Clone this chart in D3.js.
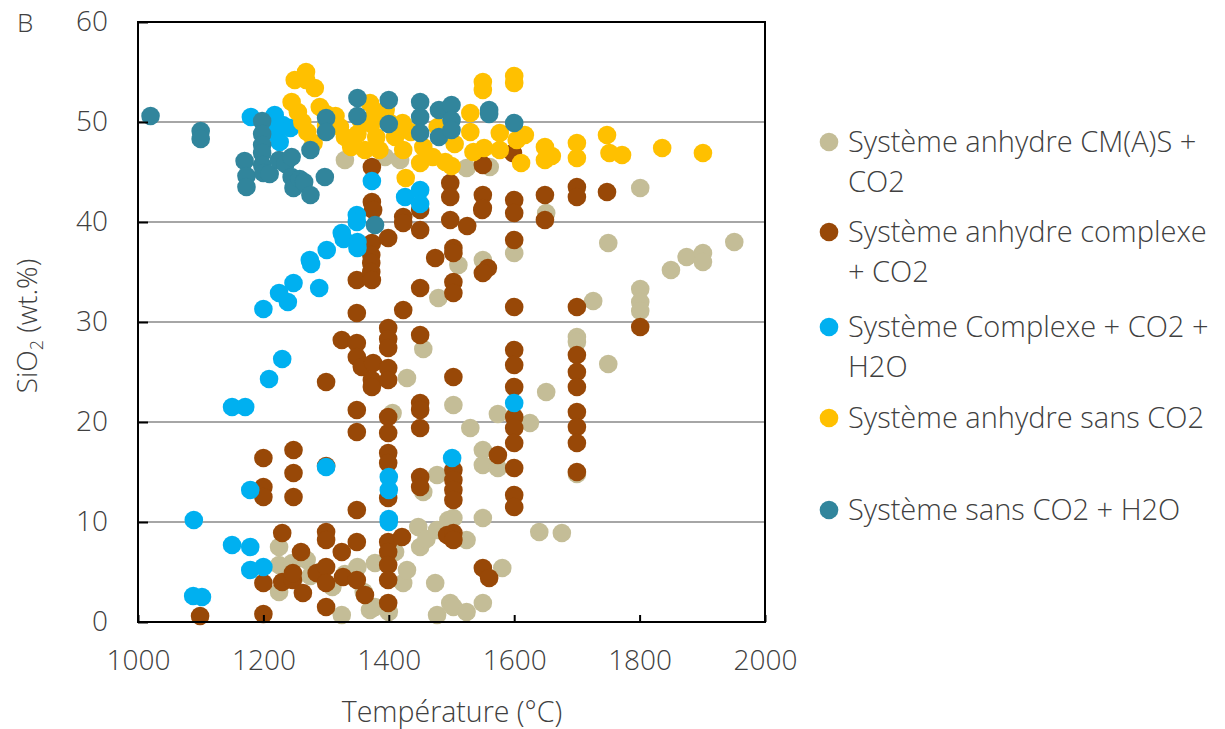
<!DOCTYPE html>
<html><head><meta charset="utf-8">
<script src="https://cdn.jsdelivr.net/npm/d3@7"></script>
<style>
body{margin:0;background:#fff;}
text{font-family:"Open Sans","Noto Sans",sans-serif;font-weight:300;fill:#404040;}
</style></head>
<body><svg id="c" width="1225" height="729"></svg>
<script>
const seriesNames = ["Système anhydre CM(A)S + CO2","Système anhydre complexe + CO2","Système Complexe + CO2 + H2O","Système anhydre sans CO2","Système sans CO2 + H2O"];
const xTicks = [1000,1200,1400,1600,1800,2000];
const yTicks = [0,10,20,30,40,50,60];

const tanPts = [[1225,7.5],[1225,5.7],[1225,3.0],[1246,5.9],[1250,4.5],[1269,6.2],[1275,4.6],[1290,5.0],[1310,3.5],[1325,0.7],[1330,4.8],[1350,5.5],[1360,3.0],[1370,1.2],[1378,5.9],[1378,1.5],[1400,1.0],[1406,20.9],[1410,7.0],[1423,3.9],[1429,5.2],[1429,24.4],[1447,9.5],[1450,7.5],[1455,13.0],[1455,27.3],[1460,8.3],[1474,3.9],[1477,14.7],[1477,9.2],[1477,0.7],[1479,32.4],[1495,10.2],[1498,1.9],[1503,21.7],[1503,10.4],[1503,1.5],[1511,35.7],[1524,8.2],[1524,1.0],[1530,19.4],[1550,36.2],[1550,17.2],[1550,15.7],[1550,10.4],[1550,1.9],[1574,20.8],[1574,15.4],[1581,5.4],[1600,36.9],[1625,19.9],[1640,9.0],[1651,23.0],[1651,40.9],[1676,8.9],[1700,28.5],[1700,28.0],[1700,14.8],[1726,32.1],[1750,37.9],[1750,25.8],[1801,43.4],[1801,33.3],[1801,32.0],[1801,31.1],[1850,35.2],[1875,36.5],[1901,36.9],[1901,36.0],[1951,38.0],[1330,46.2],[1394,46.5],[1418,46.2],[1524,45.4],[1561,45.5]];

const brownPts = [[1099,0.6],[1200,0.8],[1200,16.4],[1200,13.5],[1200,12.5],[1200,3.9],[1230,8.9],[1230,4.0],[1248,17.2],[1248,14.9],[1248,12.5],[1247,4.2],[1260,7.0],[1247,4.9],[1263,2.9],[1285,4.9],[1300,15.6],[1300,9.0],[1300,8.2],[1300,5.5],[1300,3.9],[1300,1.5],[1300,24.0],[1325,7.0],[1325,28.2],[1327,4.5],[1349,4.2],[1349,8.0],[1349,11.2],[1349,21.2],[1349,19.0],[1349,27.9],[1349,26.5],[1357,25.5],[1349,30.9],[1349,34.2],[1362,2.7],[1373,45.5],[1373,42.0],[1375,41.2],[1373,37.9],[1372,36.7],[1372,35.9],[1372,35.0],[1373,34.2],[1375,25.9],[1373,24.2],[1373,23.5],[1399,38.4],[1399,29.4],[1399,28.3],[1399,27.4],[1399,25.4],[1399,24.2],[1399,20.5],[1399,18.9],[1399,16.9],[1399,15.9],[1399,12.4],[1399,8.0],[1399,7.0],[1399,5.7],[1399,4.2],[1399,1.9],[1421,8.5],[1423,40.5],[1423,39.9],[1423,31.2],[1450,41.2],[1450,39.2],[1450,33.4],[1450,28.7],[1450,21.9],[1450,21.2],[1450,19.4],[1450,14.5],[1450,13.5],[1474,36.4],[1493,8.7],[1498,43.9],[1498,42.5],[1498,40.2],[1525,39.6],[1503,37.4],[1503,36.9],[1503,34.0],[1503,32.9],[1503,24.5],[1503,15.2],[1503,14.2],[1503,13.2],[1503,12.2],[1503,8.9],[1503,8.2],[1549,41.2],[1550,45.7],[1550,42.7],[1550,41.4],[1558,35.4],[1550,34.9],[1574,16.7],[1550,5.4],[1560,4.4],[1598,46.9],[1600,42.2],[1600,40.9],[1600,38.2],[1600,31.5],[1600,27.2],[1600,25.7],[1600,23.5],[1600,20.5],[1600,19.4],[1600,17.9],[1600,15.4],[1600,12.7],[1600,11.5],[1649,42.7],[1649,40.2],[1700,43.5],[1700,42.5],[1700,31.5],[1700,26.7],[1700,25.0],[1700,23.5],[1700,21.0],[1700,19.5],[1700,17.9],[1700,15.0],[1748,43.0],[1801,29.5]];

const bluePts = [[1088,2.6],[1102,2.5],[1089,10.2],[1150,7.7],[1179,7.5],[1179,5.2],[1200,5.5],[1179,13.2],[1150,21.5],[1171,21.5],[1209,24.3],[1230,26.3],[1200,31.3],[1225,32.9],[1239,32.0],[1248,33.9],[1274,36.2],[1276,35.8],[1289,33.4],[1301,37.2],[1325,38.9],[1328,38.3],[1349,40.7],[1349,40.0],[1350,38.0],[1350,37.4],[1373,44.1],[1426,42.5],[1450,43.2],[1450,41.8],[1300,15.5],[1400,14.5],[1400,13.2],[1400,10.3],[1400,10.0],[1501,16.4],[1600,21.9],[1180,50.5],[1218,50.7],[1211,49.0],[1226,48.0],[1231,49.7],[1243,49.4],[1200,49.0]];

const yellowPts = [[1250,54.2],[1268,55.0],[1268,54.2],[1282,53.4],[1245,52.0],[1255,51.0],[1262,50.0],[1270,49.0],[1280,47.9],[1290,51.5],[1300,50.8],[1300,49.6],[1315,50.6],[1322,49.5],[1330,48.5],[1340,47.5],[1350,48.8],[1355,50.2],[1362,47.2],[1370,51.9],[1372,49.8],[1375,50.5],[1380,48.5],[1385,47.2],[1395,51.2],[1400,50.0],[1410,48.5],[1422,49.9],[1423,47.2],[1427,44.4],[1435,49.0],[1450,45.9],[1455,47.5],[1470,46.5],[1478,49.5],[1490,46.0],[1500,45.6],[1505,47.8],[1530,50.9],[1530,49.0],[1535,47.0],[1550,54.0],[1550,53.2],[1552,47.4],[1577,48.9],[1577,47.2],[1600,54.6],[1600,53.9],[1604,48.2],[1617,48.7],[1611,45.9],[1649,47.5],[1649,46.2],[1660,46.6],[1700,47.9],[1700,46.4],[1748,48.7],[1752,46.9],[1772,46.7],[1836,47.4],[1901,46.9]];

const tealPts = [[1020,50.6],[1100,49.1],[1100,48.3],[1170,46.1],[1173,44.6],[1173,43.5],[1198,50.1],[1198,48.8],[1198,47.7],[1198,46.9],[1198,45.7],[1200,44.9],[1210,44.8],[1225,46.2],[1235,45.8],[1245,46.5],[1245,44.5],[1248,43.4],[1258,44.3],[1265,44.0],[1275,42.7],[1275,47.2],[1298,44.5],[1300,50.4],[1300,49.0],[1350,52.4],[1350,50.6],[1378,39.7],[1400,52.2],[1400,49.8],[1450,52.0],[1450,50.5],[1450,48.9],[1480,51.2],[1480,48.5],[1500,51.7],[1500,50.2],[1500,49.2],[1560,51.2],[1560,50.8],[1600,49.9]];

const colors = ["#C4BD97","#984807","#00B0F0","#FFC000","#31859C"];
const allSeries = [tanPts,brownPts,bluePts,yellowPts,tealPts];

const svg = d3.select("#c");
const L=138,R=765,T=22,B=622;
const x = d3.scaleLinear().domain([1000,2000]).range([L,R]);
const y = d3.scaleLinear().domain([0,60]).range([B,T]);

svg.append("g").selectAll("line").data(yTicks.filter(d=>d>0&&d<60)).join("line")
  .attr("x1",L).attr("x2",R).attr("y1",d=>y(d)).attr("y2",d=>y(d))
  .attr("stroke","#A6A6A6").attr("stroke-width",2);

allSeries.forEach((pts,i)=>{
  svg.append("g").selectAll("circle").data(pts).join("circle")
    .attr("cx",d=>x(d[0])).attr("cy",d=>y(d[1])).attr("r",9.3)
    .attr("fill",colors[i]);
});

svg.append("rect").attr("x",L).attr("y",T).attr("width",R-L).attr("height",B-T)
  .attr("fill","none").attr("stroke","#000").attr("stroke-width",2);

const yAx = svg.append("g").attr("transform",`translate(${L},0)`)
  .call(d3.axisLeft(y).tickValues(yTicks).tickSize(-10).tickPadding(30));
const xAx = svg.append("g").attr("transform",`translate(0,${B})`)
  .call(d3.axisBottom(x).tickValues(xTicks).tickSize(-7).tickPadding(28).tickFormat(d3.format("d")));
[yAx,xAx].forEach(a=>{
  a.select(".domain").remove();
  a.selectAll(".tick line").attr("stroke","#000").attr("stroke-width",2);
  a.selectAll("text").attr("font-size",28).style("font-family",'"Open Sans","Noto Sans",sans-serif').style("font-weight",300).attr("fill","#404040");
});

svg.append("text").attr("x",452).attr("y",722).attr("text-anchor","middle").attr("font-size",28.5).text("Température (°C)");
const yt = svg.append("text").attr("transform","translate(37,326) rotate(-90)").attr("text-anchor","middle").attr("font-size",28);
yt.append("tspan").text("SiO");
yt.append("tspan").attr("font-size",18).attr("dy",6).text("2");
yt.append("tspan").attr("dy",-6).text(" (wt.%)");
svg.append("text").attr("x",17).attr("y",32).attr("font-size",26).text("B");

const legLines = [["Système anhydre CM(A)S +","CO2"],["Système anhydre complexe","+ CO2"],["Système Complexe + CO2 +","H2O"],["Système anhydre sans CO2"],["Système sans CO2 + H2O"]];
const legY = [142,232,327,418,510];
legLines.forEach((lines,i)=>{
  svg.append("circle").attr("cx",829).attr("cy",legY[i]).attr("r",9.3).attr("fill",colors[i]);
  lines.forEach((t,j)=>{
    svg.append("text").attr("x",848).attr("y",legY[i]+10+j*40).attr("font-size",29).text(t);
  });
});
</script></body></html>
